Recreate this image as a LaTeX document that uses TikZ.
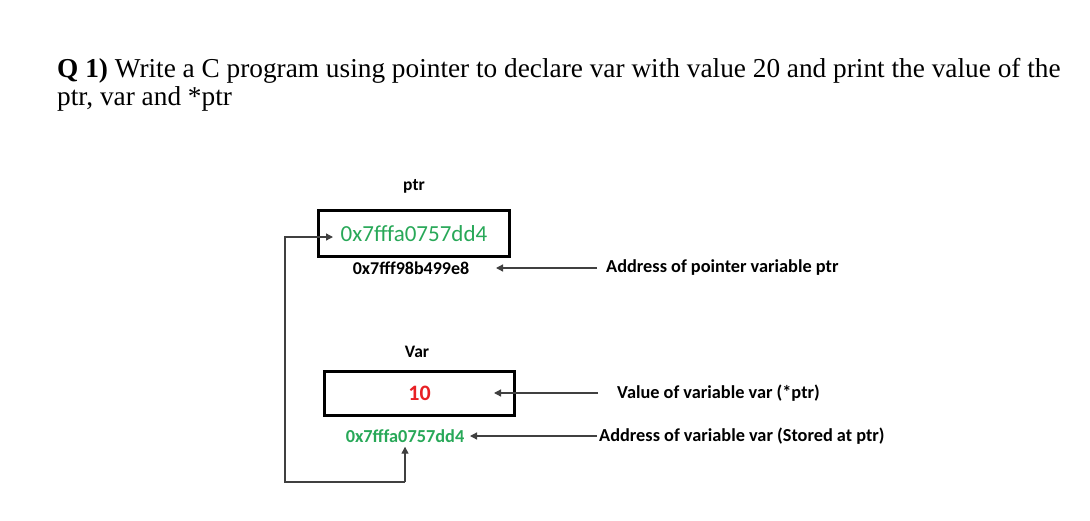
\documentclass[tikz,border=0pt]{standalone}
\usepackage{fontspec}
\setmainfont{Liberation Serif}
\newfontfamily\calib{Carlito}
\usetikzlibrary{arrows.meta,calc}
\definecolor{addrgreen}{RGB}{40,168,88}
\definecolor{valred}{RGB}{232,32,36}
\begin{document}
\begin{tikzpicture}[x=1pt,y=-1pt,
      title/.style={anchor=base west,inner sep=0,font=\fontsize{27.3}{30}\selectfont},
      membox/.style={draw,line width=3pt,inner sep=0},
      lbl/.style={inner sep=0,font=\calib\bfseries\fontsize{18.3}{20}\selectfont},
      note/.style={lbl,anchor=west},
      link/.style={draw=black!75,line width=1.3pt,-{Triangle[length=7pt,width=7pt]}}]
      \useasboundingbox (0,0) rectangle (1090,520);

      \node[title] (qline1) at (57,77)
            {\textbf{Q 1)} Write a C program using pointer to declare var with value 20 and print the value of the};
      \node[title] (qline2) at (57,105) {ptr, var and *ptr};

      \node[membox,minimum width=191,minimum height=46] (ptrbox) at (414,233.5)
            {\calib\fontsize{23}{26}\selectfont\color{addrgreen}0x7fffa0757dd4};
      \node[lbl,font=\calib\bfseries\fontsize{17.5}{20}\selectfont] (ptrname) at (414,186) {ptr};
      \node[lbl,font=\calib\bfseries\fontsize{18}{20}\selectfont] (ptraddr) at (411,268) {0x7fff98b499e8};

      \node[membox,minimum width=190,minimum height=44] (varbox) at (419.5,393.5)
            {\calib\bfseries\fontsize{22}{24}\selectfont\color{valred}10};
      \node[lbl,font=\calib\bfseries\fontsize{17.5}{20}\selectfont] (varname) at (417,352) {Var};
      \node[lbl,inner sep=4,text=addrgreen] (varaddr) at (405,436)
            {0x7fffa0757dd4};

      \node[note] (ptrnote) at (606,268) {Address of pointer variable ptr};
      \node[note] (valnote) at (617,393) {Value of variable var (*ptr)};
      \node[note] (addrnote) at (599,436) {Address of variable var (Stored at ptr)};

      \coordinate (ptrtip) at (496,268);
      \coordinate (valtip) at (494,393);
      \coordinate (addrtip) at (470,436);
      \coordinate (loopbot) at (285,482);

      \draw[link] ([xshift=-9]ptrnote.west) -- (ptrtip);
      \draw[link] ([xshift=-19]valnote.west) -- (valtip);
      \draw[link] ([xshift=-2]addrnote.west) -- (addrtip);

      \draw[link] (loopbot -| varaddr.south) -- (varaddr.south);
      \draw[link] (loopbot -| varaddr.south) -- (loopbot) |- ([shift={(16,3.5)}]ptrbox.west);
\end{tikzpicture}
\end{document}
